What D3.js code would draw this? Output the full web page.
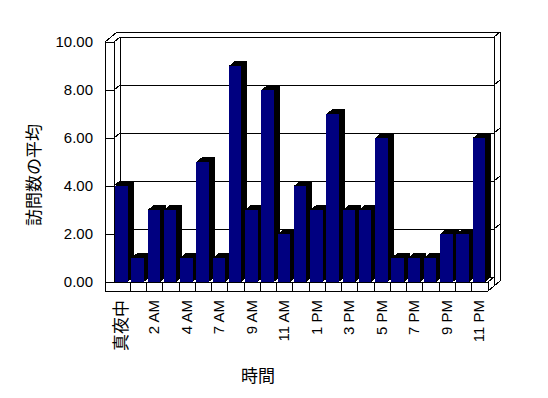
<!DOCTYPE html>
<html><head><meta charset="utf-8">
<script src="https://cdn.jsdelivr.net/npm/d3@7"></script>
<style>body{margin:0;background:#fff}svg{display:block}</style>
</head><body><svg id="c" width="548" height="398"></svg>
<script>
// ---- data ----
const categories = ["真夜中","1 AM","2 AM","3 AM","4 AM","6 AM","7 AM","8 AM","9 AM","10 AM","11 AM","12 PM","1 PM","2 PM","3 PM","4 PM","5 PM","6 PM","7 PM","8 PM","9 PM","10 PM","11 PM"];
const visits = [4,1,3,3,1,5,1,9,3,8,2,4,3,7,3,3,6,1,1,1,2,2,6];
const yTicks = [0,2,4,6,8,10];
const yTitle = "訪問数の平均";
const xTitle = "時間";

// ---- layout ----
const wallX = 105, x0 = 114, x1 = 488, yBase = 282, yTopV = 42, floorBottom = 291;
const dx = 6, dy = -5;          // depth of the plot interior
const ox = 12, oy = -10;        // depth incl. wall thickness
const FONT = "'Liberation Sans', 'Noto Sans CJK JP', sans-serif";

const svg = d3.select("#c").attr("shape-rendering", "crispEdges");
svg.append("rect").attr("width", 548).attr("height", 398).attr("fill", "#fff");

const x = d3.scaleBand().domain(d3.range(categories.length)).range([x0, x1]).padding(0);
const y = d3.scaleLinear().domain([0, 10]).range([yBase, yTopV]);
const barOff = 1, barW = x.bandwidth() * 0.77;

const g = svg.append("g").attr("fill", "none").attr("stroke", "#000").attr("stroke-width", 1);
const line = (pts) => g.append("path").attr("d", d3.line()(pts));

// outer silhouette
g.append("path").attr("fill", "#fff").attr("d", d3.line()([
  [wallX, y(10)], [wallX + ox, y(10) + oy], [x1 + ox, y(10) + oy],
  [x1 + ox, floorBottom + oy], [x1, floorBottom], [wallX, floorBottom]
]) + "Z");

// back wall inner face
line([[x0 + dx, yBase + dy], [x0 + dx, y(10) + dy], [x1 + dx, y(10) + dy], [x1 + dx, yBase + dy]]);
line([[x1 + dx, y(10) + dy], [x1 + ox, y(10) + oy]]);
// left wall front face inner edge and top
line([[x0, yBase], [x0, y(10)], [wallX, y(10)]]);
line([[x0, y(10)], [x0 + dx, y(10) + dy]]);

// gridlines / ticks
yTicks.forEach(v => {
  if (v > 0 && v < 10) {
    line([[x0 + dx, y(v) + dy], [x1 + dx, y(v) + dy]]);
    line([[x1 + dx, y(v) + dy], [x1 + ox, y(v) + oy]]);
  }
  if (v < 10) {
    line([[wallX, y(v)], [x0, y(v)], [x0 + dx, y(v) + dy]]);
  }
});

// floor
line([[x0 + dx, yBase + dy], [x1 + dx, yBase + dy]]);
line([[x0, yBase], [x1, yBase], [x1, floorBottom]]);
line([[x1, yBase], [x1 + dx, yBase + dy]]);
line([[x1 + dx, yBase + dy], [x1 + dx, floorBottom + dy]]);
d3.range(1, categories.length).forEach(i => line([[x(i), yBase], [x(i), floorBottom]]));

// bars
const bars = svg.append("g").attr("shape-rendering", "crispEdges");
visits.forEach((v, i) => {
  const bx = x(i) + barOff, by = y(v), b0 = y(0);
  bars.append("path").attr("fill", "#000").attr("stroke", "none")
    .attr("d", d3.line()([[bx, by], [bx + dx, by + dy], [bx + barW + dx, by + dy], [bx + barW + dx, b0 + dy], [bx + barW, b0]]) + "Z");
  bars.append("rect").attr("x", bx).attr("y", by).attr("width", barW).attr("height", b0 - by)
    .attr("fill", "#000080");
});

// y tick labels
svg.append("g").selectAll("text").data(yTicks).join("text")
  .attr("x", 93).attr("y", d => y(d)).attr("dy", "0.35em")
  .attr("text-anchor", "end").attr("font-family", FONT).attr("font-size", 15)
  .text(d => d3.format(".2f")(d));

// x tick labels (every other category)
svg.append("g").selectAll("text")
  .data(categories.map((c, i) => ({c, i})).filter(d => d.i % 2 === 0)).join("text")
  .attr("transform", d => `translate(${x(d.i) + barOff + barW / 2},300) rotate(-90)`)
  .attr("dy", "0.35em").attr("text-anchor", "end").attr("font-family", FONT)
  .attr("font-size", d => /[^\x00-\x7F]/.test(d.c) ? 17 : 15)
  .text(d => d.c);

// axis titles
svg.append("text").attr("transform", "translate(34,175) rotate(-90)")
  .attr("text-anchor", "middle").attr("dy", "0.35em").attr("font-family", FONT).attr("font-size", 17)
  .text(yTitle);
svg.append("text").attr("x", 258).attr("y", 376).attr("dy", "0.35em")
  .attr("text-anchor", "middle").attr("font-family", FONT).attr("font-size", 17)
  .text(xTitle);
</script></body></html>
